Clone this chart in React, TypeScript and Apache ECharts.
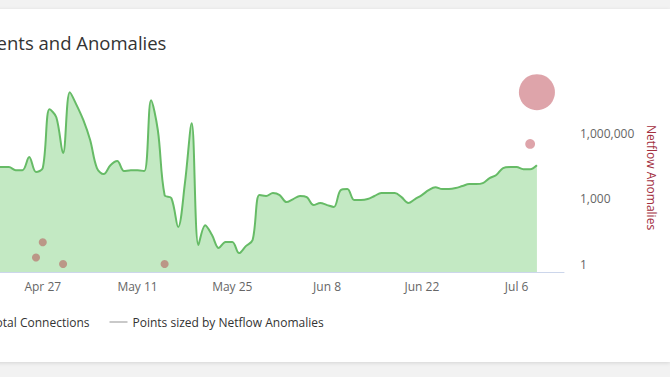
import React, { useEffect, useRef } from 'react';
import * as echarts from 'echarts';

const MONTHS = ['Jan', 'Feb', 'Mar', 'Apr', 'May', 'Jun', 'Jul', 'Aug', 'Sep', 'Oct', 'Nov', 'Dec'];
const START = { year: 2024, month: 3, day: 13 };
const DAY_COUNT = 92; // Apr 13 .. Jul 13 (axis range)

const dates: string[] = [];
for (let i = 0; i < DAY_COUNT; i++) {
  const d = new Date(Date.UTC(START.year, START.month, START.day + i));
  dates.push(`${MONTHS[d.getUTCMonth()]} ${d.getUTCDate()}`);
}

// Total Connections, daily from Apr 13 to Jul 9
const connections: number[] = [
  54000, 56000, 53000, 55000, 57000, 54500, 55000, 55500,
  55500, 55500, 53900, 53900, 60800, 52900, 55000, 86100, 81900, 62900,
  95100, 88300, 80300, 69800, 55000, 51800, 56500, 58700, 53400, 53900,
  53900, 53400, 90900, 75000, 40700, 39100, 23800, 47000, 78700, 14300,
  24800, 19600, 12700, 15900, 15900, 10000, 13700, 16900, 40700, 40200,
  41800,
  40700, 37000, 38600, 40200, 39600, 35400, 36500, 35400, 34400, 43300,
  43900, 38100, 38100, 38600, 40200, 41800, 41800, 41800, 39600, 36500,
  38600, 40700, 43300, 44900, 43900, 43900, 44400, 45500, 46500, 46500,
  47000, 49700, 51300, 55000, 55500, 55500, 54400, 54400, 56500,
];

const anomalyDates: string[] = ['Apr 26', 'Apr 27', 'Apr 30', 'May 15', 'Jul 8', 'Jul 9'];
const anomalyValues: number[] = [2, 10, 1, 1, 320000, 76000000];

const rightTickLabels: string[] = ['1', '1,000', '1,000,000'];

const FONT = "'Open Sans', 'Noto Sans', sans-serif";

export default function App() {
  const ref = useRef<HTMLDivElement>(null);

  useEffect(() => {
    if (!ref.current) return;
    const chart = echarts.init(ref.current, undefined, { renderer: 'svg' });
    const maxAnomaly = Math.max(...anomalyValues);
    const areaData: (number | null)[] = dates.map((_, i) => (i < connections.length ? connections[i] : null));
    const scatterData = anomalyDates.map((d, i) => [d, anomalyValues[i]]);

    chart.setOption({
      animation: false,
      backgroundColor: '#ffffff',
      textStyle: { fontFamily: FONT },
      title: {
        text: 'Netflow Events and Anomalies',
        left: 20,
        top: 19,
        textStyle: { fontFamily: FONT, fontSize: 18.5, fontWeight: 'normal', color: '#333333' },
      },
      legend: {
        left: 81,
        top: 302,
        itemWidth: 18,
        itemHeight: 2,
        itemGap: 20,
        icon: 'rect',
        textStyle: { fontFamily: FONT, fontSize: 12, color: '#333333' },
        data: [
          { name: 'Total Connections', itemStyle: { color: '#66bb66' } },
          { name: 'Points sized by Netflow Anomalies', itemStyle: { color: '#bbbbbb' } },
        ],
      },
      grid: { left: 68, right: 106, top: 74, bottom: 90, outerBoundsMode: 'none' },
      xAxis: {
        type: 'category',
        data: dates,
        boundaryGap: false,
        axisLine: { lineStyle: { color: '#ccd6eb', width: 1 } },
        axisTick: { show: false },
        splitLine: { show: false },
        axisLabel: { interval: 13, color: '#666666', fontSize: 12, margin: 8, fontFamily: FONT },
      },
      yAxis: [
        {
          type: 'value',
          name: 'Total Connections',
          nameLocation: 'middle',
          nameGap: 50,
          min: 0,
          max: 100000,
          position: 'left',
          axisLine: { show: false },
          axisTick: { show: false },
          splitLine: { show: false },
          axisLabel: { color: '#666666', fontSize: 12, fontFamily: FONT, showMinLabel: false },
        },
        {
          type: 'log',
          logBase: 1000,
          min: 0.43,
          max: 200000000,
          position: 'right',
          name: 'Netflow Anomalies',
          nameLocation: 'middle',
          nameRotate: -90,
          nameGap: 74,
          nameTextStyle: { color: '#a3303f', fontSize: 12, fontFamily: FONT },
          axisLine: { show: false },
          axisTick: { show: false },
          splitLine: { show: false },
          axisLabel: {
            margin: 16,
            color: '#666666',
            fontSize: 12,
            fontFamily: FONT,
            showMinLabel: false,
            showMaxLabel: false,
            formatter: (v: number) => {
              const idx = Math.round(Math.log(v) / Math.log(1000));
              if (Math.abs(Math.log(v) / Math.log(1000) - idx) > 1e-6) return '';
              return rightTickLabels[idx] ?? '';
            },
          },
        },
      ],
      series: [
        {
          name: 'Total Connections',
          type: 'line',
          data: areaData,
          yAxisIndex: 0,
          smooth: 0.35,
          showSymbol: false,
          symbol: 'none',
          lineStyle: { color: '#66bb66', width: 2 },
          itemStyle: { color: '#66bb66' },
          areaStyle: { color: '#c3e9c3', opacity: 1 },
          z: 1,
        },
        {
          name: 'Points sized by Netflow Anomalies',
          type: 'scatter',
          data: scatterData,
          yAxisIndex: 1,
          symbol: 'circle',
          symbolSize: (val: any) => 8 + 28 * Math.sqrt(val[1] / maxAnomaly),
          itemStyle: { color: 'rgba(175, 35, 50, 0.52)' },
          z: 3,
        },
      ],
    });
    return () => chart.dispose();
  }, []);

  return (
    <div style={{ position: 'fixed', left: 0, top: 0, width: 670, height: 377, background: '#f2f2f2', overflow: 'hidden' }}>
      <div
        ref={ref}
        style={{
          position: 'absolute',
          left: -120,
          top: 9,
          width: 790,
          height: 353,
          background: '#ffffff',
          boxShadow: '0 1px 4px rgba(0,0,0,0.12)',
        }}
      />
    </div>
  );
}
